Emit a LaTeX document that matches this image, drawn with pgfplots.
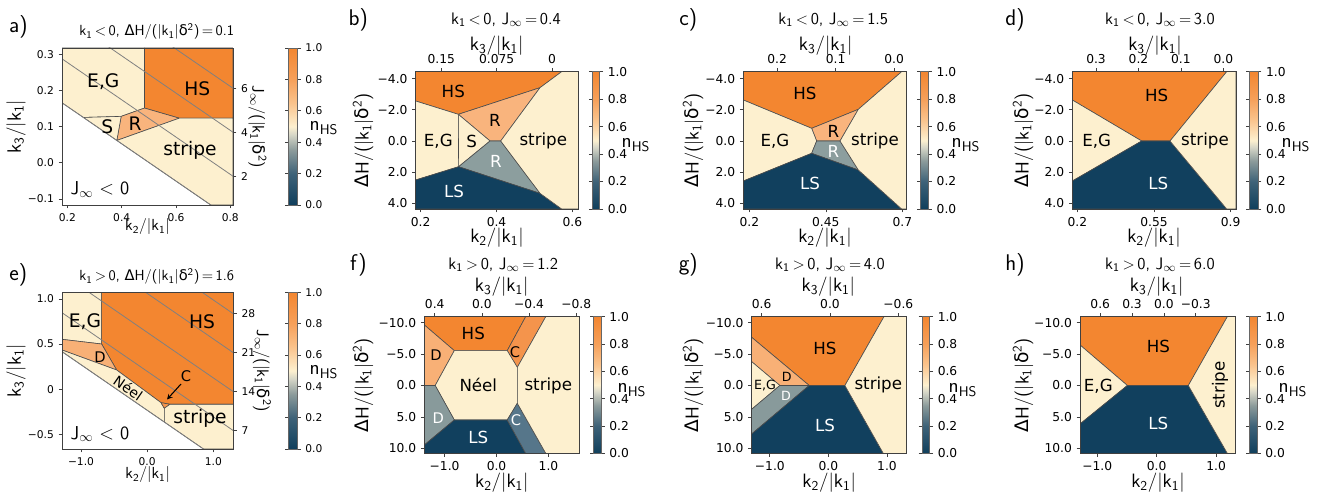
\documentclass[border=0pt]{standalone}
\usepackage{fontspec}
\usepackage{pgfplots}
\pgfplotsset{compat=1.18}
\newfontfamily\dv{DejaVu Sans}
\definecolor{cHS}{RGB}{243,134,48}
\definecolor{cLS}{RGB}{17,64,94}
\definecolor{cEG}{RGB}{253,240,207}
\definecolor{cR}{RGB}{249,180,125}
\definecolor{cRg}{RGB}{140,158,158}
\definecolor{cDu}{RGB}{248,176,118}
\definecolor{cCu}{RGB}{244,148,76}
\definecolor{cDd}{RGB}{136,154,155}
\definecolor{cCd}{RGB}{86,118,138}
\newcommand{\tfa}{\dv\fontsize{8}{9.5}\selectfont}
\newcommand{\tfb}{\dv\fontsize{9.2}{11}\selectfont}
\newcommand{\kk}[1]{k\textsubscript{#1}}
\newcommand{\dHl}{{\dv Δ}H/(|\kk1|{\dv δ}\textsuperscript{2})}
\pgfplotsset{
  colormap={nhs}{rgb255(0cm)=(16,63,92); rgb255(2cm)=(62,98,120); rgb255(3.5cm)=(140,155,155); rgb255(4.5cm)=(215,215,200); rgb255(5cm)=(253,240,207); rgb255(6.5cm)=(250,195,140); rgb255(8cm)=(246,160,90); rgb255(10cm)=(243,134,48)},
  pan/.style={scale only axis, anchor=north west, axis on top, tick align=outside,
     major tick length=2.6pt, xtick pos=left, ytick pos=left,
     every tick/.style={black!75, line width=0.5pt},
     axis line style={black!75, line width=0.5pt}},
  ovl/.style={scale only axis, anchor=north west, tick align=outside,
     major tick length=2.6pt,
     every tick/.style={black!75, line width=0.5pt},
     axis line style={black!75, line width=0.5pt}},
  cb/.style n args={3}{colorbar, colormap name=nhs, point meta min=0, point meta max=1,
     colorbar style={at={(parent axis.north east)}, anchor=north west, xshift=#1, width=#2,
       scale only axis, ytick={0,0.2,0.4,0.6,0.8,1}, yticklabels={0.0,0.2,0.4,0.6,0.8,1.0},
       yticklabel pos=right, tick align=outside, major tick length=2.5pt,
       tick label style={font=#3},
       every tick/.style={black!75, line width=0.5pt}, axis line style={black!60,line width=0.5pt}}},
  reg/.style={draw=black!70, line width=0.45pt, line join=round},
  cl/.style={draw=black!50, line width=0.6pt},
}
\begin{document}
\begin{tikzpicture}
\useasboundingbox (0,0) rectangle (991.5pt,-371.25pt);
% ---------------- panel a
\begin{axis}[pan, at={(46.5pt,-36pt)}, width=128.25pt, height=117.75pt,
  xmin=0.18, xmax=0.81, ymin=-0.117, ymax=0.317,
  xtick={0.2,0.4,0.6,0.8}, xticklabels={0.2,0.4,0.6,0.8},
  ytick={-0.1,0,0.1,0.2,0.3}, yticklabels={−0.1,0.0,0.1,0.2,0.3},
  tick label style={font=\tfa}, cb={33pt}{6.75pt}{\tfa}]
\addplot[reg, fill=cEG] coordinates {(0.18,0.317) (0.484,0.317) (0.484,0.151) (0.398,0.128) (0.259,0.125) (0.18,0.1655)} --cycle;
\addplot[reg, fill=cHS] coordinates {(0.484,0.317) (0.484,0.151) (0.612,0.123) (0.81,0.123) (0.81,0.317)} --cycle;
\addplot[reg, fill=cR] coordinates {(0.398,0.128) (0.484,0.151) (0.612,0.123) (0.382,0.0614)} --cycle;
\addplot[reg, fill=cEG] coordinates {(0.259,0.125) (0.398,0.128) (0.382,0.0614)} --cycle;
\addplot[reg, fill=cEG] coordinates {(0.382,0.0614) (0.612,0.123) (0.81,0.123) (0.81,-0.117) (0.728,-0.117)} --cycle;
\addplot[cl] coordinates {(0.18,0.1655) (0.81,-0.159)};
\addplot[cl] coordinates {(0.18,0.2871) (0.81,-0.0374)};
\addplot[cl] coordinates {(0.18,0.4087) (0.81,0.0842)};
\addplot[cl] coordinates {(0.18,0.5303) (0.81,0.2058)};
\end{axis}
\begin{axis}[ovl, at={(46.5pt,-36pt)}, width=128.25pt, height=117.75pt,
  axis x line=none, axis y line*=right, xmin=0, xmax=1, ymin=0.69, ymax=7.83,
  ytick={2,4,6}, yticklabels={2,4,6}, tick label style={font=\tfa}]
\end{axis}
% ---------------- panel e
\begin{axis}[pan, at={(46.5pt,-219.25pt)}, width=128.5pt, height=117.5pt,
  xmin=-1.287, xmax=1.302, ymin=-0.663, ymax=1.074,
  xtick={-1,0,1}, xticklabels={−1.0,0.0,1.0},
  ytick={-0.5,0,0.5,1}, yticklabels={−0.5,0,0.5,1.0},
  tick label style={font=\tfa}, cb={32.75pt}{6.75pt}{\tfa}]
\addplot[reg, fill=cEG] coordinates {(-1.287,1.074) (-0.688,1.074) (-0.688,0.501) (-1.287,0.553)} --cycle;
\addplot[reg, fill=cHS] coordinates {(-0.688,1.074) (1.302,1.074) (1.302,-0.167) (0.345,-0.167) (0.209,-0.149) (-0.461,0.213) (-0.688,0.501)} --cycle;
\addplot[reg, fill=cDu] coordinates {(-1.287,0.553) (-0.688,0.501) (-0.461,0.213) (-1.287,0.435)} --cycle;
\addplot[reg, fill=cEG] coordinates {(-1.287,0.435) (-0.461,0.213) (0.209,-0.149) (0.259,-0.212) (0.259,-0.3636) (-1.287,0.4164)} --cycle;
\addplot[reg, fill=cCu] coordinates {(0.209,-0.149) (0.345,-0.167) (0.259,-0.212)} --cycle;
\addplot[reg, fill=cEG] coordinates {(0.259,-0.212) (0.345,-0.167) (1.302,-0.167) (1.302,-0.663) (0.851,-0.663) (0.259,-0.3636)} --cycle;
\addplot[cl] coordinates {(-1.287,0.4164) (1.302,-0.891)};
\addplot[cl] coordinates {(-1.287,0.8483) (1.302,-0.4591)};
\addplot[cl] coordinates {(-1.287,1.2802) (1.302,-0.0272)};
\addplot[cl] coordinates {(-1.287,1.7121) (1.302,0.4047)};
\addplot[cl] coordinates {(-1.287,2.144) (1.302,0.8366)};
\end{axis}
\begin{axis}[ovl, at={(46.5pt,-219.25pt)}, width=128.5pt, height=117.5pt,
  axis x line=none, axis y line*=right, xmin=0, xmax=1, ymin=3.7, ymax=31.85,
  ytick={7,14,21,28}, yticklabels={7,14,21,28}, tick label style={font=\tfa}]
\end{axis}
% ---------------- panel b
\begin{axis}[pan, at={(311.75pt,-53.75pt)}, width=122pt, height=103pt,
  xmin=0.1868, xmax=0.6158, ymin=-4.449, ymax=4.364, y dir=reverse,
  xtick={0.2,0.4,0.6}, xticklabels={0.2,0.4,0.6},
  ytick={-4,-2,0,2,4}, yticklabels={−4.0,−2.0,0.0,2.0,4.0},
  tick label style={font=\tfb}, cb={1.8pt}{5.7pt}{\tfb}]
\addplot[reg, fill=cHS] coordinates {(0.1868,-4.449) (0.5719,-4.449) (0.5147,-3.422) (0.2993,-1.711) (0.1868,-2.567)} --cycle;
\addplot[reg, fill=cR] coordinates {(0.2993,-1.711) (0.5147,-3.422) (0.411,0) (0.383,0)} --cycle;
\addplot[reg, fill=cEG] coordinates {(0.2993,-1.711) (0.383,0) (0.300,1.65)} --cycle;
\addplot[reg, fill=cEG] coordinates {(0.1868,-2.567) (0.2993,-1.711) (0.300,1.65) (0.1868,2.503)} --cycle;
\addplot[reg, fill=cRg] coordinates {(0.300,1.65) (0.383,0) (0.411,0) (0.5147,3.358)} --cycle;
\addplot[reg, fill=cLS] coordinates {(0.1868,2.503) (0.300,1.65) (0.5147,3.358) (0.5719,4.364) (0.1868,4.364)} --cycle;
\addplot[reg, fill=cEG] coordinates {(0.5719,-4.449) (0.6158,-4.449) (0.6158,4.364) (0.5719,4.364) (0.5147,3.358) (0.411,0) (0.5147,-3.422)} --cycle;
\end{axis}
\begin{axis}[ovl, at={(311.75pt,-53.75pt)}, width=122pt, height=103pt,
  axis y line=none, axis x line*=top, x dir=reverse, xmin=-0.0355, xmax=0.1846, ymin=0, ymax=1,
  xtick={0,0.075,0.15}, xticklabels={0,0.075,0.15}, tick label style={font=\tfb}]
\end{axis}
% ---------------- panel c
\begin{axis}[pan, at={(557.5pt,-53.75pt)}, width=122.5pt, height=103pt,
  xmin=0.1804, xmax=0.7142, ymin=-4.449, ymax=4.364, y dir=reverse,
  xtick={0.2,0.45,0.7}, xticklabels={0.2,0.45,0.7},
  ytick={-4,-2,0,2,4}, yticklabels={−4.0,−2.0,0.0,2.0,4.0},
  tick label style={font=\tfb}, cb={1.95pt}{6pt}{\tfb}]
\addplot[reg, fill=cHS] coordinates {(0.1804,-4.449) (0.6978,-4.449) (0.5562,-2.032) (0.4037,-0.813) (0.1804,-2.631)} --cycle;
\addplot[reg, fill=cR] coordinates {(0.4037,-0.813) (0.5562,-2.032) (0.4963,0) (0.42,0)} --cycle;
\addplot[reg, fill=cEG] coordinates {(0.1804,-2.631) (0.4037,-0.813) (0.42,0) (0.4037,0.791) (0.1804,2.567)} --cycle;
\addplot[reg, fill=cRg] coordinates {(0.42,0) (0.4963,0) (0.5562,1.861) (0.4037,0.791)} --cycle;
\addplot[reg, fill=cLS] coordinates {(0.1804,2.567) (0.4037,0.791) (0.5562,1.861) (0.6978,4.364) (0.1804,4.364)} --cycle;
\addplot[reg, fill=cEG] coordinates {(0.6978,-4.449) (0.7142,-4.449) (0.7142,4.364) (0.6978,4.364) (0.5562,1.861) (0.4963,0) (0.5562,-2.032)} --cycle;
\end{axis}
\begin{axis}[ovl, at={(557.5pt,-53.75pt)}, width=122.5pt, height=103pt,
  axis y line=none, axis x line*=top, x dir=reverse, xmin=-0.0214, xmax=0.2578, ymin=0, ymax=1,
  xtick={0,0.1,0.2}, xticklabels={0.0,0.1,0.2}, tick label style={font=\tfb}]
\end{axis}
% ---------------- panel d
\begin{axis}[pan, at={(804.25pt,-53.75pt)}, width=122.75pt, height=103pt,
  xmin=0.1772, xmax=0.9244, ymin=-4.449, ymax=4.364, y dir=reverse,
  xtick={0.2,0.55,0.9}, xticklabels={0.2,0.55,0.9},
  ytick={-4,-2,0,2,4}, yticklabels={−4.0,−2.0,0.0,2.0,4.0},
  tick label style={font=\tfb}, cb={1.75pt}{6.3pt}{\tfb}]
\addplot[reg, fill=cHS] coordinates {(0.1772,-4.449) (0.8819,-4.449) (0.6231,0) (0.4938,0) (0.1772,-2.631)} --cycle;
\addplot[reg, fill=cEG] coordinates {(0.1772,-2.631) (0.4938,0) (0.1772,2.567)} --cycle;
\addplot[reg, fill=cLS] coordinates {(0.1772,2.567) (0.4938,0) (0.6231,0) (0.8819,4.364) (0.1772,4.364)} --cycle;
\addplot[reg, fill=cEG] coordinates {(0.8819,-4.449) (0.9244,-4.449) (0.9244,4.364) (0.8819,4.364) (0.6231,0)} --cycle;
\end{axis}
\begin{axis}[ovl, at={(804.25pt,-53.75pt)}, width=122.75pt, height=103pt,
  axis y line=none, axis x line*=top, x dir=reverse, xmin=-0.0298, xmax=0.3558, ymin=0, ymax=1,
  xtick={0,0.1,0.2,0.3}, xticklabels={0.0,0.1,0.2,0.3}, tick label style={font=\tfb}]
\end{axis}
% ---------------- panel f
\begin{axis}[pan, at={(318.25pt,-237.5pt)}, width=116.25pt, height=102.5pt,
  xmin=-1.39, xmax=1.594, ymin=-10.95, ymax=10.8, y dir=reverse,
  xtick={-1,0,1}, xticklabels={−1.0,0.0,1.0},
  ytick={-10,-5,0,5,10}, yticklabels={−10.0,−5.0,0.0,5.0,10.0},
  tick label style={font=\tfb}, cb={2.25pt}{5.75pt}{\tfb}]
\addplot[reg, fill=cHS] coordinates {(-1.39,-10.95) (0.561,-10.95) (0.206,-5.544) (-0.813,-5.544) (-1.39,-9.63)} --cycle;
\addplot[reg, fill=cCu] coordinates {(0.561,-10.95) (0.948,-10.95) (0.4,-2.891) (0.206,-5.544)} --cycle;
\addplot[reg, fill=cDu] coordinates {(-1.39,-9.63) (-0.813,-5.544) (-1.181,0) (-1.39,0)} --cycle;
\addplot[reg, fill=cEG] coordinates {(-0.813,-5.544) (0.206,-5.544) (0.4,-2.891) (0.4,2.838) (0.206,5.49) (-0.813,5.49) (-1.181,0)} --cycle;
\addplot[reg, fill=cDd] coordinates {(-1.39,0) (-1.181,0) (-0.813,5.49) (-1.39,9.47)} --cycle;
\addplot[reg, fill=cLS] coordinates {(-1.39,9.47) (-0.813,5.49) (0.206,5.49) (0.561,10.8) (-1.39,10.8)} --cycle;
\addplot[reg, fill=cCd] coordinates {(0.206,5.49) (0.4,2.838) (0.948,10.8) (0.561,10.8)} --cycle;
\addplot[reg, fill=cEG] coordinates {(0.948,-10.95) (1.594,-10.95) (1.594,10.8) (0.948,10.8) (0.4,2.838) (0.4,-2.891)} --cycle;
\end{axis}
\begin{axis}[ovl, at={(318.25pt,-237.5pt)}, width=116.25pt, height=102.5pt,
  axis y line=none, axis x line*=top, x dir=reverse, xmin=-0.826, xmax=0.488, ymin=0, ymax=1,
  xtick={-0.8,-0.4,0,0.4}, xticklabels={−0.8,−0.4,0.0,0.4}, tick label style={font=\tfb}]
\end{axis}
% ---------------- panel g
\begin{axis}[pan, at={(563.75pt,-237.5pt)}, width=116.25pt, height=102.5pt,
  xmin=-1.31, xmax=1.336, ymin=-10.95, ymax=10.8, y dir=reverse,
  xtick={-1,0,1}, xticklabels={−1.0,0.0,1.0},
  ytick={-10,-5,0,5,10}, yticklabels={−10.0,−5.0,0.0,5.0,10.0},
  tick label style={font=\tfb}, cb={3pt}{5.75pt}{\tfb}]
\addplot[reg, fill=cHS] coordinates {(-1.31,-10.95) (0.949,-10.95) (0.282,0) (-0.328,0) (-1.31,-7.666)} --cycle;
\addplot[reg, fill=cDu] coordinates {(-1.31,-7.666) (-0.328,0) (-0.829,0) (-1.31,-3.793)} --cycle;
\addplot[reg, fill=cEG] coordinates {(-1.31,-3.793) (-0.829,0) (-1.31,3.793)} --cycle;
\addplot[reg, fill=cDd] coordinates {(-0.829,0) (-0.328,0) (-1.31,7.719) (-1.31,3.793)} --cycle;
\addplot[reg, fill=cLS] coordinates {(-0.328,0) (0.282,0) (0.937,10.8) (-1.31,10.8) (-1.31,7.719)} --cycle;
\addplot[reg, fill=cEG] coordinates {(0.282,0) (0.949,-10.95) (1.336,-10.95) (1.336,10.8) (0.937,10.8)} --cycle;
\end{axis}
\begin{axis}[ovl, at={(563.75pt,-237.5pt)}, width=116.25pt, height=102.5pt,
  axis y line=none, axis x line*=top, x dir=reverse, xmin=-0.673, xmax=0.687, ymin=0, ymax=1,
  xtick={-0.6,0,0.6}, xticklabels={−0.6,0.0,0.6}, tick label style={font=\tfb}]
\end{axis}
% ---------------- panel h
\begin{axis}[pan, at={(810pt,-237.5pt)}, width=116.75pt, height=102.5pt,
  xmin=-1.289, xmax=1.328, ymin=-10.95, ymax=10.8, y dir=reverse,
  xtick={-1,0,1}, xticklabels={−1.0,0.0,1.0},
  ytick={-10,-5,0,5,10}, yticklabels={−10.0,−5.0,0.0,5.0,10.0},
  tick label style={font=\tfb}, cb={2pt}{5.75pt}{\tfb}]
\addplot[reg, fill=cHS] coordinates {(-1.289,-10.95) (1.188,-10.95) (0.532,0) (-0.493,0) (-1.289,-6.446)} --cycle;
\addplot[reg, fill=cEG] coordinates {(-1.289,-6.446) (-0.493,0) (-1.289,6.127)} --cycle;
\addplot[reg, fill=cLS] coordinates {(-1.289,6.127) (-0.493,0) (0.532,0) (1.188,10.8) (-1.289,10.8)} --cycle;
\addplot[reg, fill=cEG] coordinates {(0.532,0) (1.188,-10.95) (1.328,-10.95) (1.328,10.8) (1.188,10.8)} --cycle;
\end{axis}
\begin{axis}[ovl, at={(810pt,-237.5pt)}, width=116.75pt, height=102.5pt,
  axis y line=none, axis x line*=top, x dir=reverse, xmin=-0.677, xmax=0.7904, ymin=0, ymax=1,
  xtick={-0.3,0,0.3,0.6}, xticklabels={−0.3,0.0,0.3,0.6}, tick label style={font=\tfb}]
\end{axis}
% ---------------- texts
\begin{scope}[x=0.75pt, y=-0.75pt]
\tikzset{pl/.style={font=\sffamily\fontsize{17}{19}\selectfont},
  tt/.style={font=\sffamily\fontsize{12.5}{14}\selectfont},
  ta/.style={font=\sffamily\fontsize{11}{13}\selectfont},
  lab/.style={font=\sffamily\fontsize{14.5}{16}\selectfont},
  ldh/.style={font=\sffamily\fontsize{14}{16}\selectfont},
  lax/.style={font=\sffamily\fontsize{12}{14}\selectfont},
  lay/.style={font=\sffamily\fontsize{14.5}{16}\selectfont},
  laj/.style={font=\sffamily\fontsize{12.5}{14}\selectfont},
  lb/.style={font=\dv\fontsize{12.5}{14}\selectfont},
  la/.style={font=\dv\fontsize{14}{16}\selectfont},
  ls/.style={font=\dv\fontsize{11}{13}\selectfont},
  nh/.style={font=\sffamily\fontsize{15}{17}\selectfont, anchor=west}}
% panel letters
\node[pl] at (18.3,26.7) {a)};
\node[pl] at (358.3,20) {b)};
\node[pl] at (688.3,20) {c)};
\node[pl] at (1015,20) {d)};
\node[pl] at (18.3,275) {e)};
\node[pl] at (358.3,265) {f)};
\node[pl] at (688.3,265) {g)};
\node[pl] at (1015,265) {h)};
% titles
\node[ta] at (156.7,31.7) {\kk1\,$<$\,0, \dHl{}\,$=$\,0.1};
\node[tt] at (506,20) {\kk1\,$<$\,0, J$_\infty$\,$=$\,0.4};
\node[tt] at (833.3,20) {\kk1\,$<$\,0, J$_\infty$\,$=$\,1.5};
\node[tt] at (1160,20) {\kk1\,$<$\,0, J$_\infty$\,$=$\,3.0};
\node[ta] at (156.7,276.7) {\kk1\,$>$\,0, \dHl{}\,$=$\,1.6};
\node[tt] at (503.3,265) {\kk1\,$>$\,0, J$_\infty$\,$=$\,1.2};
\node[tt] at (830,265) {\kk1\,$>$\,0, J$_\infty$\,$=$\,4.0};
\node[tt] at (1160,265) {\kk1\,$>$\,0, J$_\infty$\,$=$\,6.0};
% top labels
\node[lab] at (496.7,46) {\kk3/|\kk1|};
\node[lab] at (825.7,46) {\kk3/|\kk1|};
\node[lab] at (1155,46) {\kk3/|\kk1|};
\node[lab] at (501.7,287) {\kk3/|\kk1|};
\node[lab] at (828.3,287) {\kk3/|\kk1|};
\node[lab] at (1156.7,287) {\kk3/|\kk1|};
% bottom labels
\node[lax] at (147.5,227) {\kk2/|\kk1|};
\node[lab] at (497,238) {\kk2/|\kk1|};
\node[lab] at (825,238) {\kk2/|\kk1|};
\node[lab] at (1154,238) {\kk2/|\kk1|};
\node[lax] at (147.7,475) {\kk2/|\kk1|};
\node[lab] at (501.8,482.5) {\kk2/|\kk1|};
\node[lab] at (829.2,482.5) {\kk2/|\kk1|};
\node[lab] at (1158,482.5) {\kk2/|\kk1|};
% y labels
\node[lay, rotate=90] at (16,126.5) {\kk3/|\kk1|};
\node[lay, rotate=90] at (16,370.7) {\kk3/|\kk1|};
\node[ldh, rotate=90] at (363,140.3) {\dHl};
\node[ldh, rotate=90] at (693,140.3) {\dHl};
\node[ldh, rotate=90] at (1023,140.3) {\dHl};
\node[ldh, rotate=90] at (363,385) {\dHl};
\node[ldh, rotate=90] at (693,385) {\dHl};
\node[ldh, rotate=90] at (1023,385) {\dHl};
% right J labels
\node[laj, rotate=-90] at (257.5,127) {J$_\infty$/(|\kk1|{\dv δ}\textsuperscript{2})};
\node[laj, rotate=-90] at (262,371) {J$_\infty$/(|\kk1|{\dv δ}\textsuperscript{2})};
% n_HS
\node[nh] at (305,128) {n\textsubscript{HS}};
\node[nh] at (305,372) {n\textsubscript{HS}};
\node[nh] at (617,145) {n\textsubscript{HS}};
\node[nh] at (947,145) {n\textsubscript{HS}};
\node[nh] at (1277,145) {n\textsubscript{HS}};
\node[nh] at (613,390) {n\textsubscript{HS}};
\node[nh] at (944,390) {n\textsubscript{HS}};
\node[nh] at (1274,390) {n\textsubscript{HS}};
% region labels a
\node[la] at (103.3,81.7) {E,G};
\node[la] at (197.3,88.3) {HS};
\node[la] at (107.3,126.7) {S};
\node[la] at (135,123.3) {R};
\node[la] at (190,150) {stripe};
\node[font=\sffamily\fontsize{14}{16}\selectfont] at (100,189.3) {J$_\infty$ $<$ 0};
% region labels b
\node[lb] at (453.3,91) {HS};
\node[lb] at (495,120) {R};
\node[lb] at (438.3,141.7) {E,G};
\node[lb] at (471.7,141.7) {S};
\node[lb] at (543.3,141) {stripe};
\node[lb, white] at (496,161.7) {R};
\node[lb, white] at (454,191) {LS};
% c
\node[lb] at (805,93.3) {HS};
\node[lb] at (833.3,131.7) {R};
\node[lb] at (775,141.7) {E,G};
\node[lb] at (875,140.7) {stripe};
\node[lb, white] at (833.3,151.7) {R};
\node[lb, white] at (810,183.3) {LS};
% d
\node[lb] at (1156.7,95) {HS};
\node[lb] at (1096.7,141.7) {E,G};
\node[lb] at (1205,140.7) {stripe};
\node[lb, white] at (1158.3,183.3) {LS};
% e
\node[la] at (85,322) {E,G};
\node[la] at (202,322) {HS};
\node[ls] at (100,357) {D};
\node[font=\dv\fontsize{10.5}{12}\selectfont, rotate=-34.6, inner sep=0pt] at (128.3,388.3) {Néel};
\node[ls] at (186,376) {C};
\node[la] at (200,418) {stripe};
\node[font=\sffamily\fontsize{14}{16}\selectfont] at (100,434) {J$_\infty$ $<$ 0};
\draw[-stealth, line width=0.8pt] (181,384) -- (167,399.5);
% f
\node[lb] at (473.3,333.3) {HS};
\node[ls] at (436,355) {D};
\node[ls] at (515,351.7) {C};
\node[lb] at (478.3,385) {Néel};
\node[lb] at (548.3,386) {stripe};
\node[ls, white] at (438.3,418.3) {D};
\node[ls, white] at (516,420) {C};
\node[lb, white] at (478.3,437.3) {LS};
% g
\node[lb] at (825,348.3) {HS};
\node[font=\dv\fontsize{9.5}{11}\selectfont] at (786.7,376.7) {D};
\node[font=\dv\fontsize{9.5}{11}\selectfont] at (765,386) {E,G};
\node[font=\dv\fontsize{9.5}{11}\selectfont, white] at (786,396) {D};
\node[lb] at (878.3,385) {stripe};
\node[lb, white] at (825,425) {LS};
% h
\node[lb] at (1158.3,346.7) {HS};
\node[lb] at (1098.3,386.7) {E,G};
\node[lb, rotate=90] at (1220,385) {stripe};
\node[lb, white] at (1158.3,423.3) {LS};
\end{scope}
\end{tikzpicture}
\end{document}
